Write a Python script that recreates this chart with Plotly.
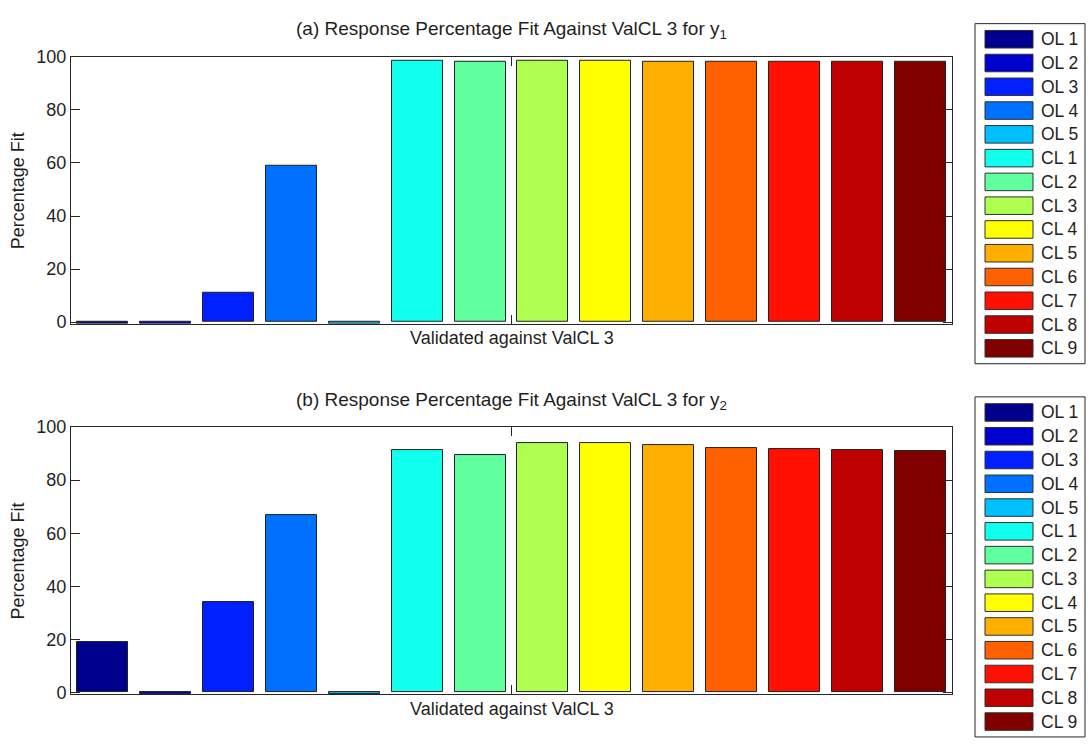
import plotly.graph_objects as go

# ---- data -------------------------------------------------------------
series_names = ["OL 1", "OL 2", "OL 3", "OL 4", "OL 5",
                "CL 1", "CL 2", "CL 3", "CL 4", "CL 5", "CL 6", "CL 7", "CL 8", "CL 9"]
fit_y1 = [-0.6, -0.6, 11.2, 58.9, -0.6, 98.5, 98.2, 98.5, 98.5, 98.3, 98.3, 98.3, 98.3, 98.3]
fit_y2 = [19.1, -0.6, 33.9, 66.8, -0.6, 91.4, 89.5, 93.8, 93.8, 93.4, 92.1, 91.7, 91.4, 91.1]
panel_titles = ["(a) Response Percentage Fit Against ValCL 3 for y<sub>1</sub>",
                "(b) Response Percentage Fit Against ValCL 3 for y<sub>2</sub>"]
x_label = "Validated against ValCL 3"
y_label = "Percentage Fit"
y_ticks = [0, 20, 40, 60, 80, 100]

# jet colormap samples, one per series
colors = ["#00008F", "#0000CF", "#0020FF", "#0070FF", "#00BFFF", "#10FFEF", "#60FF9F",
          "#AFFF50", "#FFFF00", "#FFAF00", "#FF6000", "#FF1000", "#BF0000", "#800000"]

# ---- layout helpers ---------------------------------------------------
W, H = 1089, 744
FONT = "Arial, Liberation Sans, Helvetica, sans-serif"
TXT = "#1f1f1f"
AX = "#262626"
LABEL_SIZE = 18
TITLE_SIZE = 19


def px_x(p):
    return p / W


def px_y(p):
    return 1 - p / H


fig = go.Figure()
panels = [fit_y1, fit_y2]
offsets = [0, 380]          # vertical pixel offset of each panel
legend_offsets = [0, 383]

shapes = []
annotations = []

for k, (vals, off) in enumerate(zip(panels, offsets)):
    xa = "x" if k == 0 else "x2"
    ya = "y" if k == 0 else "y2"
    for i, (name, v) in enumerate(zip(series_names, vals)):
        fig.add_trace(go.Bar(
            x=[i + 1], y=[v], name=name, width=0.81,
            marker=dict(color=colors[i], line=dict(color="#202020", width=1)),
            xaxis=xa, yaxis=ya, showlegend=False,
            hovertemplate=name + ": %{y:.1f}%<extra></extra>",
        ))

    axis_common = dict(showline=True, linecolor=AX, linewidth=1, mirror="ticks",
                       ticks="inside", ticklen=9, tickcolor=AX, showgrid=False,
                       zeroline=False,
                       tickfont=dict(family=FONT, size=LABEL_SIZE, color=TXT))
    x_key = "xaxis" if k == 0 else "xaxis2"
    y_key = "yaxis" if k == 0 else "yaxis2"
    fig.update_layout(**{
        x_key: dict(domain=[px_x(71), px_x(952)], range=[0.5, 14.5],
                    tickvals=[7.5], showticklabels=False, anchor=ya, **axis_common),
        y_key: dict(domain=[px_y(322 + off), px_y(48 + off)], range=[-0.6, 100],
                    tickvals=y_ticks, anchor=xa, **axis_common),
    })

    # panel title and axis labels
    annotations.append(dict(text=panel_titles[k], x=px_x(511.5), y=px_y(21 + off),
                            xref="paper", yref="paper", showarrow=False,
                            xanchor="center", yanchor="middle",
                            font=dict(family=FONT, size=TITLE_SIZE, color=TXT)))
    annotations.append(dict(text=x_label, x=px_x(511.5), y=px_y(337 + off),
                            xref="paper", yref="paper", showarrow=False,
                            xanchor="center", yanchor="middle",
                            font=dict(family=FONT, size=LABEL_SIZE, color=TXT)))
    annotations.append(dict(text=y_label, x=px_x(18), y=px_y(186 + off),
                            xref="paper", yref="paper", showarrow=False, textangle=-90,
                            xanchor="center", yanchor="middle",
                            font=dict(family=FONT, size=LABEL_SIZE, color=TXT)))

    # legend box with one swatch per series
    loff = legend_offsets[k]
    shapes.append(dict(type="rect", xref="paper", yref="paper",
                       x0=px_x(975), x1=px_x(1085), y0=px_y(min(363 + loff, 746)),
                       y1=px_y(14 + loff), line=dict(color=AX, width=1),
                       fillcolor="white", layer="below"))
    for i, name in enumerate(series_names):
        cy = 30 + loff + 24.4 * i
        shapes.append(dict(type="rect", xref="paper", yref="paper",
                           x0=px_x(985), x1=px_x(1033), y0=px_y(cy + 9), y1=px_y(cy - 9),
                           line=dict(color="#303030", width=1), fillcolor=colors[i]))
        annotations.append(dict(text=name, x=px_x(1039), y=px_y(cy),
                                xref="paper", yref="paper", showarrow=False,
                                xanchor="left", yanchor="middle",
                                font=dict(family=FONT, size=17.5, color=TXT)))

fig.update_layout(
    width=W, height=H, margin=dict(l=0, r=0, t=0, b=0),
    paper_bgcolor="white", plot_bgcolor="white",
    barmode="overlay", bargap=0,
    shapes=shapes, annotations=annotations,
    font=dict(family=FONT, color=TXT),
)

fig.write_html("out.html")
